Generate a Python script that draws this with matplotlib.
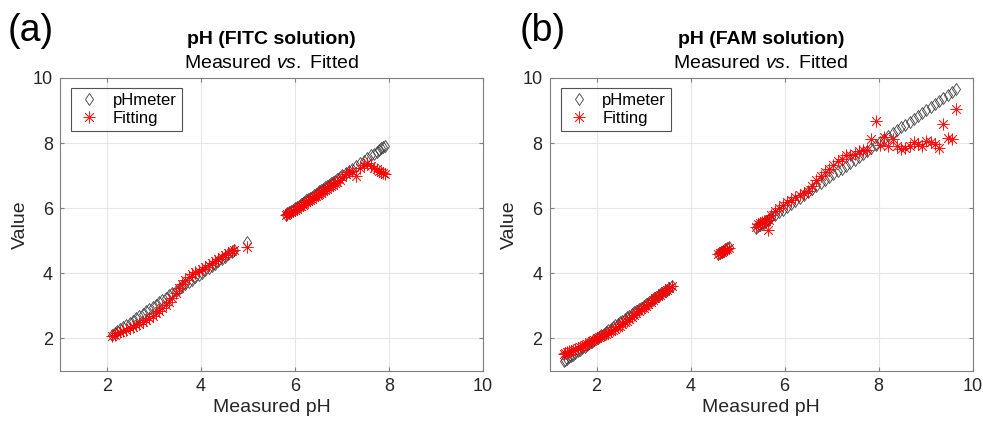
import matplotlib
matplotlib.use("Agg")
import matplotlib.pyplot as plt

plt.rcParams['font.family'] = ['Liberation Sans', 'DejaVu Sans']
plt.rcParams['mathtext.fontset'] = 'custom'
plt.rcParams['mathtext.rm'] = 'Liberation Sans'
plt.rcParams['mathtext.it'] = 'Liberation Sans:italic'
plt.rcParams['mathtext.bf'] = 'Liberation Sans:bold'

# ---------------- data: FITC ----------------
fitc_ph = [2.10, 2.16, 2.22, 2.28, 2.35, 2.41, 2.48, 2.55, 2.62, 2.69, 2.76, 2.83,
           2.90, 2.97, 3.04, 3.11, 3.18, 3.25, 3.32, 3.39, 3.46, 3.53, 3.60, 3.67,
           3.74, 3.81, 3.88, 3.95, 4.02, 4.09, 4.16, 4.23, 4.30, 4.37, 4.44, 4.51,
           4.58, 4.65, 4.71, 4.97,
           5.80, 5.84, 5.88, 5.92, 5.96, 6.00, 6.04, 6.08, 6.12, 6.16, 6.20, 6.24,
           6.28, 6.32, 6.36, 6.40, 6.44, 6.48, 6.52, 6.56, 6.60, 6.64, 6.68, 6.72,
           6.76, 6.80, 6.85, 6.90, 6.95, 7.01, 7.08, 7.15, 7.22, 7.30, 7.38, 7.46,
           7.54, 7.62, 7.68, 7.74, 7.79, 7.84, 7.88, 7.92]
fitc_fit = [2.08, 2.12, 2.16, 2.20, 2.24, 2.27, 2.31, 2.35, 2.40, 2.45, 2.50, 2.56,
            2.62, 2.70, 2.77, 2.85, 2.92, 3.02, 3.12, 3.24, 3.40, 3.55, 3.66, 3.78,
            3.88, 3.97, 4.03, 4.08, 4.14, 4.20, 4.26, 4.32, 4.38, 4.44, 4.50, 4.56,
            4.62, 4.68, 4.72, 4.80,
            5.80, 5.82, 5.85, 5.88, 5.92, 5.95, 5.99, 6.03, 6.07, 6.10, 6.14, 6.18,
            6.22, 6.25, 6.29, 6.33, 6.37, 6.41, 6.44, 6.48, 6.52, 6.56, 6.60, 6.64,
            6.68, 6.72, 6.77, 6.82, 6.88, 6.95, 7.04, 7.12, 7.14, 6.98, 7.25, 7.33,
            7.38, 7.30, 7.24, 7.22, 7.15, 7.10, 7.08, 7.05]

# ---------------- data: FAM ----------------
fam_ph = [1.30, 1.34, 1.38, 1.42, 1.46, 1.50, 1.55, 1.60, 1.65, 1.70, 1.75, 1.80,
          1.85, 1.90, 1.95, 2.00, 2.05, 2.10, 2.15, 2.20, 2.25, 2.30, 2.35, 2.40,
          2.45, 2.50, 2.55, 2.60, 2.65, 2.70, 2.75, 2.80, 2.85, 2.90, 2.95, 3.00,
          3.05, 3.10, 3.15, 3.20, 3.25, 3.30, 3.35, 3.40, 3.45, 3.50, 3.55, 3.60,
          4.58, 4.62, 4.66, 4.70, 4.74, 4.78, 4.82,
          5.40, 5.44, 5.48, 5.52, 5.56, 5.60, 5.64, 5.68,
          5.72, 5.80, 5.88, 5.96, 6.05, 6.14, 6.23, 6.32, 6.41, 6.50, 6.59, 6.68,
          6.77, 6.86, 6.95, 7.04, 7.13, 7.22, 7.31, 7.40, 7.49, 7.58, 7.67, 7.76,
          7.85, 7.94, 8.03, 8.12, 8.21, 8.30, 8.39, 8.48, 8.57, 8.66, 8.75, 8.84,
          8.93, 9.02, 9.11, 9.20, 9.29, 9.38, 9.47, 9.56, 9.65]
fam_fit = [1.52, 1.55, 1.57, 1.60, 1.62, 1.64, 1.67, 1.70, 1.73, 1.77, 1.80, 1.84,
           1.88, 1.92, 1.96, 2.00, 2.03, 2.07, 2.11, 2.14, 2.18, 2.22, 2.26, 2.30,
           2.35, 2.39, 2.44, 2.49, 2.54, 2.60, 2.65, 2.71, 2.77, 2.83, 2.89, 2.95,
           3.01, 3.07, 3.13, 3.19, 3.24, 3.29, 3.34, 3.40, 3.45, 3.50, 3.55, 3.60,
           4.60, 4.62, 4.66, 4.69, 4.72, 4.75, 4.78,
           5.42, 5.52, 5.55, 5.58, 5.60, 5.62, 5.33, 5.64,
           5.80, 5.90, 6.00, 6.10, 6.18, 6.26, 6.33, 6.40, 6.46, 6.52, 6.68, 6.88,
           6.98, 7.10, 7.20, 7.32, 7.45, 7.52, 7.62, 7.64, 7.66, 7.75, 7.78, 7.80,
           8.12, 8.68, 7.95, 8.20, 7.92, 8.14, 7.90, 7.82, 7.84, 7.90, 8.04, 7.98,
           7.92, 8.05, 8.04, 7.96, 7.84, 8.60, 8.16, 8.14, 9.04]

panels = [
    ("(a)", "pH (FITC solution)", fitc_ph, fitc_fit),
    ("(b)", "pH (FAM solution)", fam_ph, fam_fit),
]
xticks = [2, 4, 6, 8, 10]
yticks = [2, 4, 6, 8, 10]

W, H = 983, 425
fig = plt.figure(figsize=(W / 100, H / 100), dpi=100)

ax_lefts = [60, 549.5]
label_x = [8, 520]
ax_w = 423
ax_top = 78
ax_bot = 371
text_col = '#262626'

for i, (lab, ttl, ph, fit) in enumerate(panels):
    ax = fig.add_axes([ax_lefts[i] / W, 1 - ax_bot / H, ax_w / W, (ax_bot - ax_top) / H])
    ax.plot(ph, ph, linestyle='none', marker='d', markersize=6,
            markerfacecolor='none', markeredgecolor='#3a3a3a', markeredgewidth=0.6,
            label='pHmeter', zorder=3)
    ax.plot(ph, fit, linestyle='none', marker=(8, 2, 0), markersize=8.5,
            color='#ff0000', markeredgewidth=0.55, alpha=0.9, label='Fitting', zorder=4)
    ax.set_xlim(1, 10)
    ax.set_ylim(1, 10)
    ax.set_xticks(xticks)
    ax.set_yticks(yticks)
    ax.grid(True, color='#e6e6e6', linewidth=0.8, zorder=0)
    ax.set_axisbelow(True)
    for s in ax.spines.values():
        s.set_color('#7f7f7f')
        s.set_linewidth(0.8)
    ax.tick_params(direction='in', length=3, width=0.8, color='#7f7f7f',
                   labelsize=13, labelcolor=text_col, top=True, right=True, pad=5)
    ax.set_xlabel('Measured pH', fontsize=14, color=text_col, labelpad=3)
    ax.set_ylabel('Value', fontsize=14, color=text_col, labelpad=3)
    cx = (ax_lefts[i] + ax_w / 2) / W
    fig.text(cx, 1 - 40 / H, ttl, ha='center', va='center', fontsize=14,
             fontweight='bold', color='black')
    fig.text(cx, 1 - 64 / H, r'Measured $\it{vs.}$ Fitted', ha='center', va='center',
             fontsize=14, color='black')
    fig.text(label_x[i] / W, 1 - 31 / H, lab,
             ha='left', va='center', fontsize=27, color='black')
    leg = ax.legend(loc='upper left', bbox_to_anchor=(11 / ax_w, 1 - 10 / (ax_bot - ax_top)),
                    fontsize=12, frameon=True, fancybox=False, borderpad=0.3,
                    handletextpad=0.6, handlelength=1.6, labelspacing=0.2,
                    borderaxespad=0)
    leg.get_frame().set_edgecolor('#262626')
    leg.get_frame().set_linewidth(0.8)

fig.savefig('out.png', dpi=100)
